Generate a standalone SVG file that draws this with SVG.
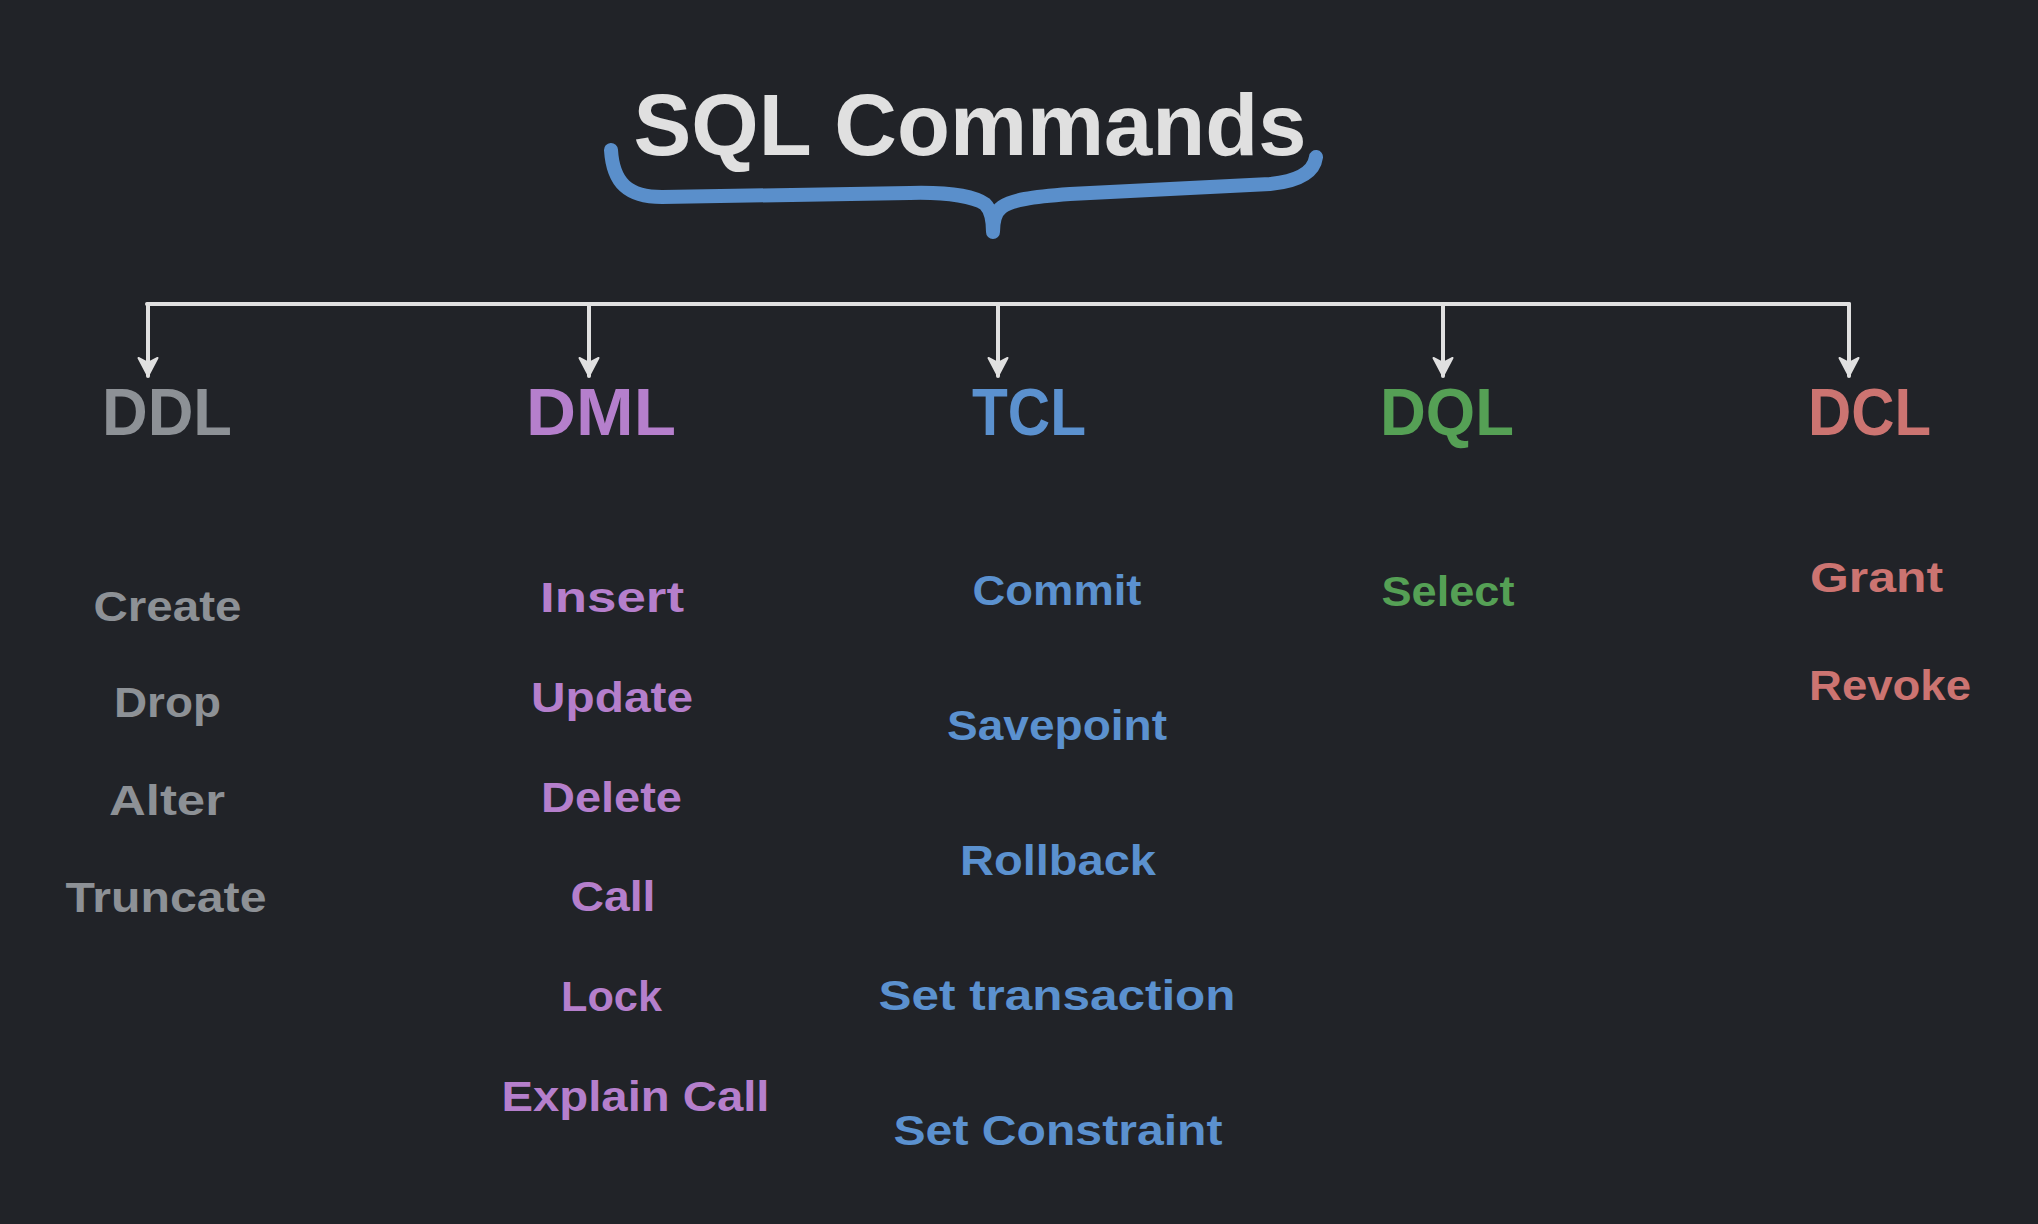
<svg xmlns="http://www.w3.org/2000/svg" width="2038" height="1224" viewBox="0 0 2038 1224">
<style>
  text { font-family: "Liberation Sans", Arial, sans-serif; font-weight: 700; }
  .title { font-size: 88px; fill: #e0e0e0; }
  .cat { font-size: 67px; }
  .item { font-size: 43px; }
  .ddl { fill: #8d9196; }
  .dml { fill: #b57fcc; }
  .tcl { fill: #5b91cf; }
  .dql { fill: #55a055; }
  .dcl { fill: #cc7471; }
  .conn { stroke: #e0e0e0; stroke-width: 4; fill: none; stroke-linecap: round; }
  .brace { stroke: #5a8fcb; stroke-width: 14; fill: none; stroke-linecap: round; stroke-linejoin: round; }
</style>
<defs>
  <marker id="arrow" markerUnits="userSpaceOnUse" viewBox="-22 -12 24 24" markerWidth="24" markerHeight="24" refX="0" refY="0" orient="auto">
    <path d="M0,0 L-18,-9.5 L-13,0 L-18,9.5 Z" fill="#e0e0e0" stroke="#e0e0e0" stroke-width="2" stroke-linejoin="round"/>
  </marker>
</defs>
<rect x="0" y="0" width="2038" height="1224" fill="#212328"/>

<g id="title">
  <text class="title" x="970" y="155" text-anchor="middle" textLength="673" lengthAdjust="spacingAndGlyphs">SQL Commands</text>
  <path class="brace" d="M611,150 C613,183 628,197 662,197 L910,193 C950,192 975,197 985,204 C991,210 993,220 993,232 C993,220 995,212 1002,207 C1012,200 1030,197 1070,194 L1270,184 C1300,181 1314,172 1316,157"/>
</g>

<g id="connectors">
  <line class="conn" x1="147" y1="304" x2="1849" y2="304"/>
  <line class="conn" x1="148" y1="304" x2="148" y2="376" marker-end="url(#arrow)"/>
  <line class="conn" x1="589" y1="304" x2="589" y2="376" marker-end="url(#arrow)"/>
  <line class="conn" x1="998" y1="304" x2="998" y2="376" marker-end="url(#arrow)"/>
  <line class="conn" x1="1443" y1="304" x2="1443" y2="376" marker-end="url(#arrow)"/>
  <line class="conn" x1="1849" y1="304" x2="1849" y2="376" marker-end="url(#arrow)"/>
</g>

<g id="ddl">
  <text class="cat ddl" x="167" y="435" text-anchor="middle" textLength="130" lengthAdjust="spacingAndGlyphs">DDL</text>
  <text class="item ddl" x="167.5" y="621" text-anchor="middle" textLength="148" lengthAdjust="spacingAndGlyphs">Create</text>
  <text class="item ddl" x="167.5" y="717" text-anchor="middle" textLength="107" lengthAdjust="spacingAndGlyphs">Drop</text>
  <text class="item ddl" x="167" y="815" text-anchor="middle" textLength="116" lengthAdjust="spacingAndGlyphs">Alter</text>
  <text class="item ddl" x="166" y="912" text-anchor="middle" textLength="201" lengthAdjust="spacingAndGlyphs">Truncate</text>
</g>

<g id="dml">
  <text class="cat dml" x="601" y="435" text-anchor="middle" textLength="150" lengthAdjust="spacingAndGlyphs">DML</text>
  <text class="item dml" x="612" y="612" text-anchor="middle" textLength="144" lengthAdjust="spacingAndGlyphs">Insert</text>
  <text class="item dml" x="612" y="712" text-anchor="middle" textLength="162" lengthAdjust="spacingAndGlyphs">Update</text>
  <text class="item dml" x="611.5" y="812" text-anchor="middle" textLength="141" lengthAdjust="spacingAndGlyphs">Delete</text>
  <text class="item dml" x="613" y="911" text-anchor="middle" textLength="85" lengthAdjust="spacingAndGlyphs">Call</text>
  <text class="item dml" x="611.5" y="1011" text-anchor="middle" textLength="101" lengthAdjust="spacingAndGlyphs">Lock</text>
  <text class="item dml" x="635.5" y="1111" text-anchor="middle" textLength="268" lengthAdjust="spacingAndGlyphs">Explain Call</text>
</g>

<g id="tcl">
  <text class="cat tcl" x="1029" y="435" text-anchor="middle" textLength="114" lengthAdjust="spacingAndGlyphs">TCL</text>
  <text class="item tcl" x="1057" y="605" text-anchor="middle" textLength="169" lengthAdjust="spacingAndGlyphs">Commit</text>
  <text class="item tcl" x="1057" y="740" text-anchor="middle" textLength="220" lengthAdjust="spacingAndGlyphs">Savepoint</text>
  <text class="item tcl" x="1058" y="875" text-anchor="middle" textLength="196" lengthAdjust="spacingAndGlyphs">Rollback</text>
  <text class="item tcl" x="1057" y="1010" text-anchor="middle" textLength="357" lengthAdjust="spacingAndGlyphs">Set transaction</text>
  <text class="item tcl" x="1058" y="1145" text-anchor="middle" textLength="329" lengthAdjust="spacingAndGlyphs">Set Constraint</text>
</g>

<g id="dql">
  <text class="cat dql" x="1447" y="435" text-anchor="middle" textLength="134" lengthAdjust="spacingAndGlyphs">DQL</text>
  <text class="item dql" x="1448" y="606" text-anchor="middle" textLength="133" lengthAdjust="spacingAndGlyphs">Select</text>
</g>

<g id="dcl">
  <text class="cat dcl" x="1869.5" y="435" text-anchor="middle" textLength="123" lengthAdjust="spacingAndGlyphs">DCL</text>
  <text class="item dcl" x="1810" y="592" textLength="133" lengthAdjust="spacingAndGlyphs">Grant</text>
  <text class="item dcl" x="1809" y="700" textLength="162" lengthAdjust="spacingAndGlyphs">Revoke</text>
</g>
</svg>
